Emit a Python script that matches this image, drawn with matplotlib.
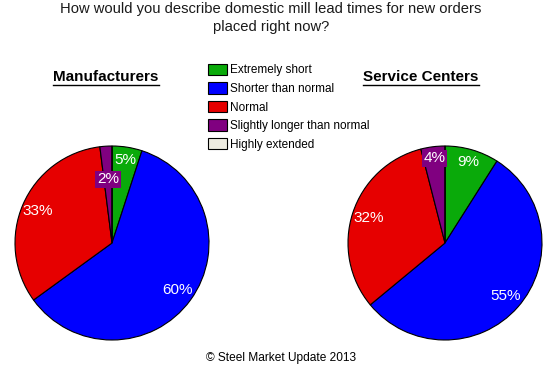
import matplotlib
matplotlib.use("Agg")
import matplotlib.pyplot as plt
import numpy as np
from matplotlib.lines import Line2D

W, H = 557, 366

categories = ["Extremely short", "Shorter than normal", "Normal",
              "Slightly longer than normal", "Highly extended"]
manufacturers = [5, 60, 33, 2, 0]
service_centers = [9, 55, 32, 4, 0]
colors = ["#0AAA0A", "#0000FF", "#E60000", "#800080", "#EEECE1"]

title = "How would you describe domestic mill lead times for new orders\nplaced right now?"
footer = "\u00a9 Steel Market Update 2013"

plt.rcParams["font.family"] = ["Liberation Sans", "DejaVu Sans"]

fig = plt.figure(figsize=(W / 100, H / 100), dpi=100)
ax = fig.add_axes([0, 0, 1, 1])

R = 97
# label radius factor per slice (best-fit placement); small slices get a box
lab_r = {
    "m": [0.87, 0.83, 0.83, 0.66, 0.83],
    "s": [0.87, 0.83, 0.83, 0.88, 0.83],
}


def draw_pie(values, cx, cy, key):
    wedges, _ = ax.pie(values, colors=colors, startangle=90, counterclock=False,
                       center=(cx, H - cy), radius=R, frame=True,
                       wedgeprops=dict(edgecolor="black", linewidth=0.8))
    for i, (w, v) in enumerate(zip(wedges, values)):
        if v == 0:
            continue
        mid = np.deg2rad((w.theta1 + w.theta2) / 2)
        r = R * lab_r[key][i]
        x = cx + r * np.cos(mid)
        y = H - cy + r * np.sin(mid)
        bbox = None
        if v < 5:
            bbox = dict(boxstyle="square,pad=0.1", fc=colors[i], ec="none")
        ax.text(x, y, f"{v}%", color="white", fontsize=11, ha="center",
                va="center", bbox=bbox)
    return wedges


wedges = draw_pie(manufacturers, 112, 243, "m")
draw_pie(service_centers, 445, 243, "s")

ax.set_xlim(0, W)
ax.set_ylim(0, H)
ax.set_aspect("equal")
ax.axis("off")

fig.text(271 / W, 1 - 18 / H, title, ha="center", va="center", fontsize=10.6,
         color="#1a1a1a", linespacing=1.35)

heads = []
for txt, x in [("Manufacturers", 106), ("Service Centers", 421)]:
    heads.append(fig.text(x / W, 1 - 77 / H, txt, ha="center", va="center",
                          fontsize=11, fontweight="bold"))

fig.text(281 / W, 1 - 358 / H, footer, ha="center", va="center", fontsize=8.6)

ax.legend(wedges, categories, loc="upper left", bbox_to_anchor=(203 / W, 1 - 59 / H),
          bbox_transform=fig.transFigure, frameon=False, fontsize=8.5,
          handlelength=1.6, handleheight=1.1, handletextpad=0.3, labelspacing=0.5,
          borderaxespad=0)

# underline the pie headings
fig.canvas.draw()
r = fig.canvas.get_renderer()
for t in heads:
    bb = t.get_window_extent(r)
    y = bb.y0 - 1
    fig.add_artist(Line2D([bb.x0 / W, bb.x1 / W], [y / H, y / H],
                          transform=fig.transFigure, color="black", linewidth=1))

fig.savefig("out.png", dpi=100)
